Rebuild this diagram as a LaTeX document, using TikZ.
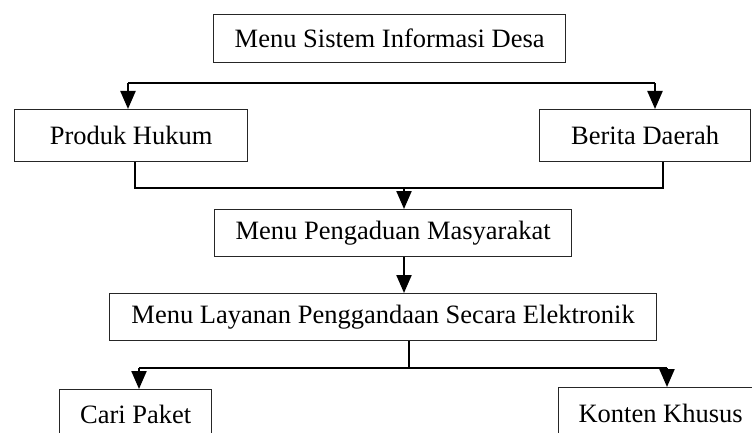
\documentclass[tikz,border=0pt]{standalone}
\usepackage{fontspec}
\setmainfont{Liberation Serif}
\usetikzlibrary{arrows.meta}
\begin{document}
\begin{tikzpicture}[x=1pt,y=-1pt,
  box/.style={draw=black!85,line width=1.3pt,inner sep=0pt,anchor=north west,
    font=\fontsize{26.5}{30}\selectfont},
  conn/.style={draw=black,line width=2.2pt},
  arr/.style={conn,-{Triangle[width=15pt,length=18pt]}}]
\useasboundingbox (0,0) rectangle (752,433);
\clip (0,0) rectangle (752,433);
% boxes (x from left, y from top)
\node[box,minimum width=352pt,minimum height=48pt] (menu) at (213,14) {Menu Sistem Informasi Desa};
\node[box,minimum width=233pt,minimum height=52pt] (hukum) at (14,109) {Produk Hukum};
\node[box,minimum width=211pt,minimum height=52pt] (berita) at (539,109) {Berita Daerah};
\node[box,minimum width=357pt,minimum height=47pt] (aduan) at (214,209) {Menu Pengaduan Masyarakat};
\node[box,minimum width=547pt,minimum height=47pt] (layanan) at (109,293) {Menu Layanan Penggandaan Secara Elektronik};
\node[box,minimum width=152pt,minimum height=50pt] (cari) at (59,389) {Cari Paket};
\node[box,minimum width=204pt,minimum height=52pt] (konten) at (558,387) {Konten Khusus};
% level 1 connectors
\coordinate (t1) at (128,83);
\coordinate (t2) at (655,83);
\draw[conn] (t1) -- (t2);
\draw[arr] (t1) -- (t1 |- hukum.north);
\draw[arr] (t2) -- (t2 |- berita.north);
% level 2 connectors
\coordinate (h1) at (135,188);
\coordinate (h2) at (663,188);
\coordinate (hm) at (404,188);
\draw[conn] (h1 |- hukum.south) -- (h1) -- (h2) -- (h2 |- berita.south);
\draw[arr] (hm) -- (hm |- aduan.north);
\draw[arr] (hm |- aduan.south) -- (hm |- layanan.north);
% level 3 connectors
\coordinate (l1) at (139,368);
\coordinate (l2) at (667,368);
\coordinate (lm) at (409,368);
\draw[conn] (lm |- layanan.south) -- (lm);
\draw[conn] (l1) -- (l2);
\draw[arr] (l1) -- (l1 |- cari.north);
\draw[arr] (l2) -- (l2 |- konten.north);
\end{tikzpicture}
\end{document}
